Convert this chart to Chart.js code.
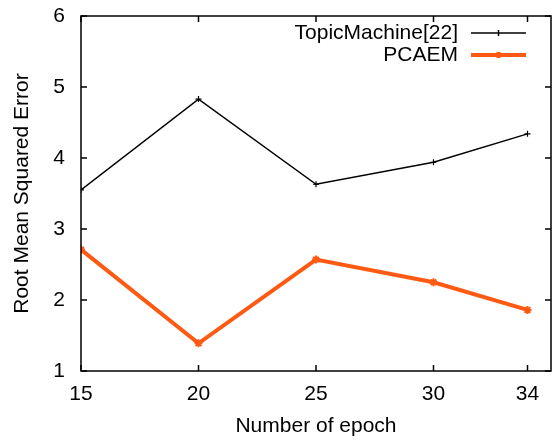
<!DOCTYPE html>
<html>
<head>
<meta charset="utf-8">
<script src="https://cdn.jsdelivr.net/npm/chart.js@4/dist/chart.umd.min.js"></script>
<style>
  html, body { margin: 0; padding: 0; background: #fff; }
  #wrap { width: 552px; height: 440px; }
</style>
</head>
<body>
<div id="wrap"><canvas id="rmseChart" width="552" height="440"></canvas></div>
<script>
// data
const epochs = [15, 20, 25, 30, 34];
const topicMachine = [3.55, 4.83, 3.63, 3.94, 4.34];
const pcaem = [2.71, 1.39, 2.57, 2.25, 1.86];
const xTicks = [15, 20, 25, 30, 34];
const yTicks = [1, 2, 3, 4, 5, 6];

const FONT = '"Liberation Sans", Arial, sans-serif';
const ORANGE = '#ff5a14';

// gnuplot-like frame: box, inward ticks on all four sides, legend in the corner
const framePlugin = {
  id: 'frame',
  afterDraw(chart) {
    const ctx = chart.ctx;
    const a = chart.chartArea;
    const xs = chart.scales.x, ys = chart.scales.y;
    const tl = 6;
    ctx.save();
    ctx.strokeStyle = '#000';
    ctx.lineWidth = 1.5;
    ctx.strokeRect(a.left, a.top, a.right - a.left, a.bottom - a.top);
    ctx.beginPath();
    xTicks.forEach(v => {
      const px = xs.getPixelForValue(v);
      ctx.moveTo(px, a.bottom); ctx.lineTo(px, a.bottom - tl);
      ctx.moveTo(px, a.top); ctx.lineTo(px, a.top + tl);
    });
    yTicks.forEach(v => {
      const py = ys.getPixelForValue(v);
      ctx.moveTo(a.left, py); ctx.lineTo(a.left + tl, py);
      ctx.moveTo(a.right, py); ctx.lineTo(a.right - tl, py);
    });
    ctx.stroke();

    // legend
    ctx.font = '21px ' + FONT;
    ctx.fillStyle = '#000';
    ctx.textAlign = 'right';
    ctx.textBaseline = 'middle';
    const items = [
      { label: 'TopicMachine[22]', color: '#000', width: 1.5, y: 33 },
      { label: 'PCAEM', color: ORANGE, width: 4, y: 55 }
    ];
    items.forEach(it => {
      ctx.fillText(it.label, 458, it.y);
      ctx.strokeStyle = it.color;
      ctx.lineWidth = it.width;
      ctx.beginPath();
      ctx.moveTo(471, it.y); ctx.lineTo(526, it.y);
      ctx.stroke();
      ctx.beginPath();
      ctx.moveTo(498.5, it.y - 3); ctx.lineTo(498.5, it.y + 3);
      ctx.stroke();
    });
    ctx.restore();
  }
};

const data = {
  datasets: [
    {
      label: 'TopicMachine[22]',
      data: epochs.map((e, i) => ({ x: e, y: topicMachine[i] })),
      borderColor: '#000',
      backgroundColor: '#000',
      borderWidth: 1.5,
      pointStyle: 'cross',
      pointRadius: 3,
      pointBorderWidth: 1.2,
      tension: 0
    },
    {
      label: 'PCAEM',
      data: epochs.map((e, i) => ({ x: e, y: pcaem[i] })),
      borderColor: ORANGE,
      backgroundColor: ORANGE,
      borderWidth: 4,
      pointStyle: 'star',
      pointRadius: 4,
      pointBorderWidth: 2,
      tension: 0
    }
  ]
};

const config = {
  type: 'line',
  data: data,
  options: {
    responsive: false,
    animation: false,
    layout: { autoPadding: false, padding: { left: 0, right: 1, top: 16, bottom: 0 } },
    plugins: {
      legend: { display: false },
      tooltip: { enabled: false }
    },
    scales: {
      x: {
        type: 'linear',
        min: 15,
        max: 35,
        afterBuildTicks: scale => { scale.ticks = xTicks.map(v => ({ value: v })); },
        afterFit: scale => { scale.height = 69; scale.paddingLeft = 0; scale.paddingRight = 0; },
        grid: { display: false, drawTicks: false },
        border: { display: false },
        ticks: { color: '#000', font: { family: FONT, size: 21 }, padding: 11, maxRotation: 0, autoSkip: false },
        title: { display: true, text: 'Number of epoch', color: '#000', font: { family: FONT, size: 21 }, padding: { top: 1, bottom: 1 } }
      },
      y: {
        min: 1,
        max: 6,
        afterBuildTicks: scale => { scale.ticks = yTicks.map(v => ({ value: v })); },
        afterFit: scale => { scale.width = 81; scale.paddingTop = 0; scale.paddingBottom = 0; },
        grid: { display: false, drawTicks: false },
        border: { display: false },
        ticks: { color: '#000', font: { family: FONT, size: 21 }, padding: 16 },
        title: { display: true, text: 'Root Mean Squared Error', color: '#000', font: { family: FONT, size: 21 }, padding: { top: 10, bottom: 8 } }
      }
    }
  },
  plugins: [framePlugin]
};

new Chart(document.getElementById('rmseChart').getContext('2d'), config);
</script>
</body>
</html>
